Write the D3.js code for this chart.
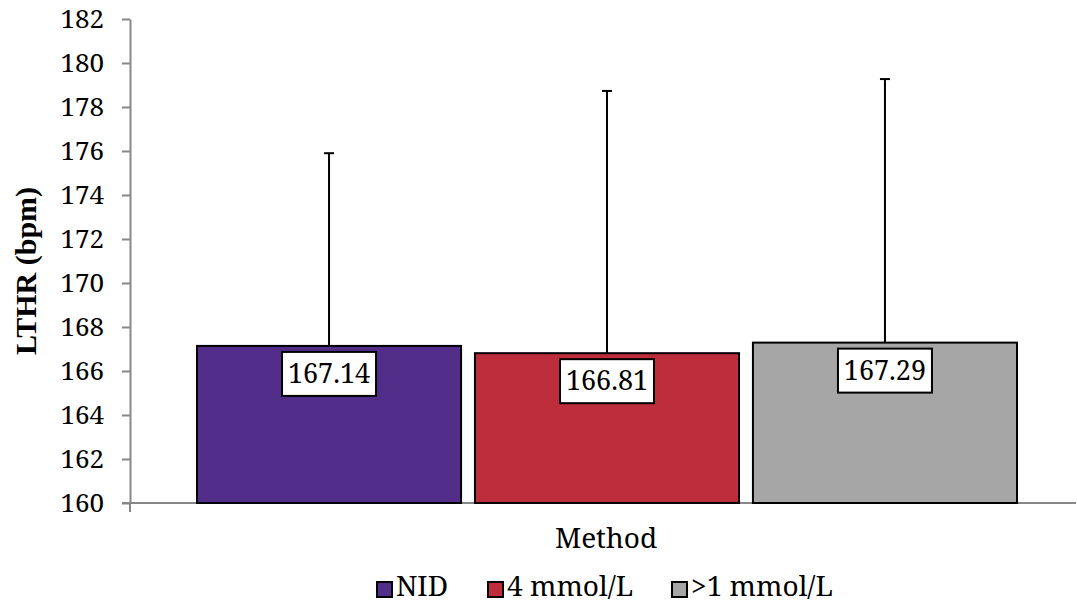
<!DOCTYPE html>
<html>
<head>
<meta charset="utf-8">
<script src="https://cdn.jsdelivr.net/npm/d3@7"></script>
<style>
  html, body { margin: 0; padding: 0; background: #fff; }
</style>
</head>
<body>
<svg id="chart" width="1077" height="605"></svg>
<script>
const groups = ["Method"];
const series = ["NID", "4 mmol/L", ">1 mmol/L"];
const means = [167.14, 166.81, 167.29];
const sds = [8.76, 11.92, 11.98];
const colors = ["#532D8A", "#BE2D3C", "#A6A6A6"];
const yTicks = [160, 162, 164, 166, 168, 170, 172, 174, 176, 178, 180, 182];

const NUM_FONT = '"Noto Serif"';
const TITLE_FONT = '"Liberation Serif"';
const WORD_FONT = '"Noto Serif"';

const svg = d3.select("#chart");
const margin = { left: 130, top: 19, bottom: 102 };
const W = 1077, H = 605;
const plotR = 1076;
const plotB = H - margin.bottom;

const y = d3.scaleLinear().domain([160, 182]).range([plotB, margin.top]);
const x0 = d3.scaleBand().domain(groups).range([margin.left, plotR]);
const x1 = d3.scaleBand().domain(series)
  .range([x0("Method") + 67, x0("Method") + x0.bandwidth() - 59]).paddingInner(0.05);

const axisColor = "#878787";

// Y axis
const yAxis = d3.axisLeft(y).tickValues(yTicks).tickSize(8).tickSizeOuter(0).tickPadding(18);
const gy = svg.append("g").attr("transform", `translate(${margin.left},0)`).call(yAxis);
gy.attr("font-family", null).attr("font-size", null);
gy.select(".domain").attr("stroke", axisColor).attr("stroke-width", 2);
gy.selectAll(".tick line").attr("stroke", axisColor).attr("stroke-width", 2);
gy.selectAll(".tick text").attr("fill", "#000")
  .style("font-family", NUM_FONT).style("font-size", "26px");

// X axis
const gx = svg.append("g").attr("transform", `translate(0,${plotB})`);
gx.append("line").attr("x1", margin.left - 8).attr("x2", plotR).attr("y1", 0).attr("y2", 0)
  .attr("stroke", axisColor).attr("stroke-width", 2);
gx.append("line").attr("x1", margin.left).attr("x2", margin.left).attr("y1", 0).attr("y2", 9)
  .attr("stroke", axisColor).attr("stroke-width", 2);

// Bars
const data = series.map((s, i) => ({ s, m: means[i], sd: sds[i], c: colors[i] }));
svg.append("g").selectAll("rect").data(data).enter().append("rect")
  .attr("x", d => x1(d.s))
  .attr("y", d => y(d.m))
  .attr("width", x1.bandwidth())
  .attr("height", d => plotB - y(d.m))
  .attr("fill", d => d.c)
  .attr("stroke", "#000")
  .attr("stroke-width", 2);

// Error bars
const eb = svg.append("g").attr("stroke", "#000").attr("stroke-width", 2);
data.forEach(d => {
  const cx = x1(d.s) + x1.bandwidth() / 2;
  eb.append("line").attr("x1", cx).attr("x2", cx).attr("y1", y(d.m)).attr("y2", y(d.m + d.sd));
  eb.append("line").attr("x1", cx - 5).attr("x2", cx + 5).attr("y1", y(d.m + d.sd)).attr("y2", y(d.m + d.sd));
});

// Value labels
const lab = svg.append("g");
data.forEach(d => {
  const cx = x1(d.s) + x1.bandwidth() / 2;
  const top = y(d.m) + 6;
  lab.append("rect").attr("x", cx - 47).attr("y", top).attr("width", 94).attr("height", 44)
    .attr("fill", "#fff").attr("stroke", "#000").attr("stroke-width", 2);
  lab.append("text").attr("x", cx).attr("y", top + 31).attr("text-anchor", "middle")
    .style("font-family", NUM_FONT).style("font-size", "27px").attr("fill", "#000")
    .text(d.m.toFixed(2));
});

// Axis titles
svg.append("text").attr("transform", `translate(36, 271) rotate(-90)`)
  .attr("text-anchor", "middle").style("font-family", TITLE_FONT)
  .style("font-size", "30px").style("font-weight", "bold").attr("fill", "#000").text("LTHR (bpm)");
svg.append("text").attr("x", 606).attr("y", 548).attr("text-anchor", "middle")
  .style("font-family", WORD_FONT).style("font-size", "28px").attr("fill", "#000").text(groups[0]);

// Legend
const legendX = [377, 488, 672];
const lg = svg.append("g");
data.forEach((d, i) => {
  lg.append("rect").attr("x", legendX[i]).attr("y", 582).attr("width", 15).attr("height", 15)
    .attr("fill", d.c).attr("stroke", "#000").attr("stroke-width", 2);
  lg.append("text").attr("x", legendX[i] + 19).attr("y", 596)
    .style("font-family", WORD_FONT).style("font-size", "28px").attr("fill", "#000").text(d.s);
});
</script>
</body>
</html>
